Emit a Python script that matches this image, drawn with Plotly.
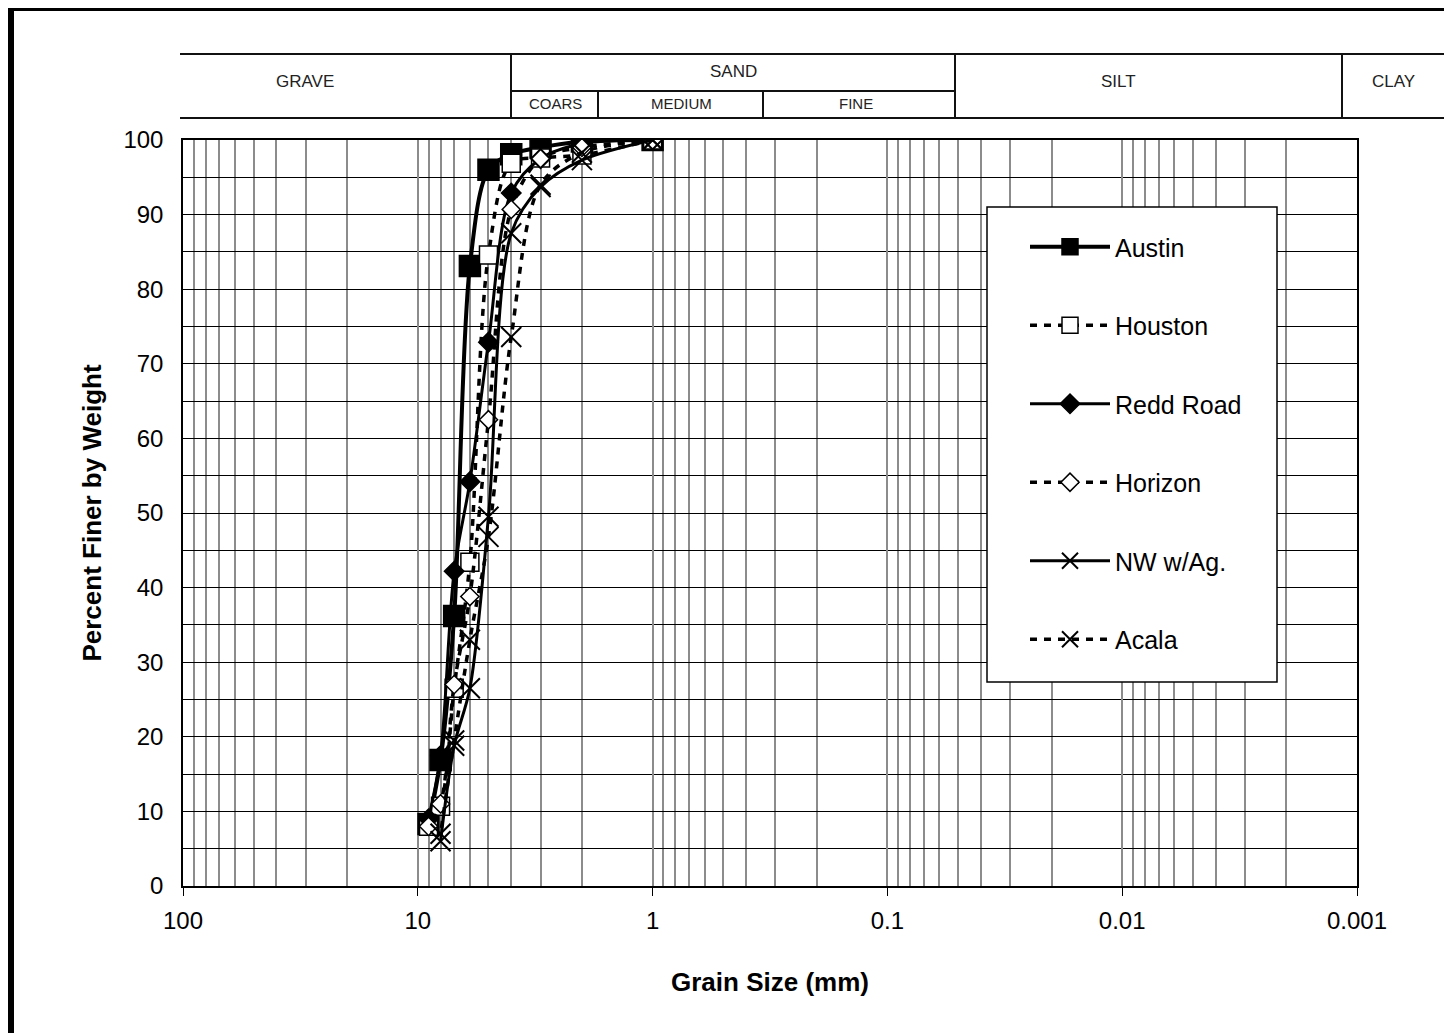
import plotly.graph_objects as go

# ---------------- data ----------------
sizes_mm = [1, 2, 3, 4, 5, 6, 7, 8, 9]
austin = [100, 99.8, 99.0, 98.1, 96.0, 83.1, 36.2, 16.9, 8.3]
houston = [100, 98.0, 97.6, 96.9, 84.6, 43.4, 26.5, 10.7, 8.0]
redd_road = [100, 99.5, 97.5, 92.9, 72.9, 54.2, 42.2, 17.5, 9.0]
horizon = [100, 99.0, 97.5, 90.7, 62.5, 38.8, 27.0, 11.0, 8.0]
sizes_mm_short = [1, 2, 3, 4, 5, 6, 7, 8]
nw_ag = [100, 97.3, 93.7, 87.5, 49.5, 26.5, 18.8, 6.0]
acala = [100, 98.3, 94.0, 73.6, 46.8, 33.0, 19.5, 7.0]

major_ticks = [100, 10, 1, 0.1, 0.01, 0.001]
major_labels = ["100", "10", "1", "0.1", "0.01", "0.001"]
minor_ticks = [k * 10.0 ** e for e in range(-3, 2) for k in range(2, 10)]

header_top = ["GRAVE", "SAND", "SILT", "CLAY"]
header_sub = ["COARS", "MEDIUM", "FINE"]

# ---------------- figure geometry (page has an 8px body margin) ----------------
OFF = 8
W, H = 1452 - OFF, 1033 - OFF
PL, PT, PR, PB = 183, 140, 1357, 886          # plot area in page pixels
L, T = PL - OFF, PT - OFF
R = W - (PR - OFF)
B = H - (PB - OFF)
PW, PH = PR - PL, PB - PT


def px(x):
    return (x - PL) / PW


def py(y):
    return (PB - y) / PH


FONT = "Arial, Liberation Sans, sans-serif"

fig = go.Figure()


def add(name, x, y, dash, symbol, msize, fill, lw):
    fig.add_trace(go.Scatter(
        x=x, y=y, name=name, mode="lines+markers", legendgroup=name,
        line=dict(color="black", width=lw, dash=dash, shape="spline", smoothing=0.9),
        marker=dict(symbol=symbol, size=msize, color=fill,
                    line=dict(color="black", width=2 if symbol == "x-thin" else 1.5)),
    ))


DOT = "7px,7px"
add("Austin", sizes_mm, austin, "solid", "square", 21, "black", 4)
add("Houston", sizes_mm, houston, DOT, "square", 18, "white", 3.5)
add("Redd Road", sizes_mm, redd_road, "solid", "diamond", 15, "black", 3)
add("Horizon", sizes_mm, horizon, DOT, "diamond", 14, "white", 3.5)
add("NW w/Ag.", sizes_mm_short, nw_ag, "solid", "x-thin", 20, "black", 3)
add("Acala", sizes_mm_short, acala, DOT, "x-thin", 20, "black", 3.5)

shapes = []
# outer frame (top and left thick borders)
shapes.append(dict(type="line", xref="paper", yref="paper", x0=px(8), x1=px(1470),
                   y0=py(9.5), y1=py(9.5), line=dict(color="black", width=3)))
shapes.append(dict(type="line", xref="paper", yref="paper", x0=px(11), x1=px(11),
                   y0=py(8), y1=py(1050), line=dict(color="black", width=6)))

# header table
hl = dict(color="#111111", width=2)
shapes += [
    dict(type="line", xref="paper", yref="paper", x0=px(180), x1=px(1470), y0=py(54), y1=py(54), line=hl),
    dict(type="line", xref="paper", yref="paper", x0=px(180), x1=px(1470), y0=py(118), y1=py(118), line=hl),
    dict(type="line", xref="paper", yref="paper", x0=px(511), x1=px(955), y0=py(91), y1=py(91), line=hl),
]
for xv in [511, 955, 1342]:
    shapes.append(dict(type="line", xref="paper", yref="paper", x0=px(xv), x1=px(xv),
                       y0=py(54), y1=py(118), line=hl))
for xv in [598, 763]:
    shapes.append(dict(type="line", xref="paper", yref="paper", x0=px(xv), x1=px(xv),
                       y0=py(91), y1=py(118), line=hl))

# legend box
shapes.append(dict(type="rect", xref="paper", yref="paper", x0=px(987), x1=px(1277),
                   y0=py(682), y1=py(207), fillcolor="white",
                   line=dict(color="black", width=1.5), layer="above"))

annotations = []
hfont = dict(family=FONT, size=17, color="#222222")
for txt, xc, yc in zip(header_top, [305, 733, 1118, 1393], [82, 72, 82, 82]):
    annotations.append(dict(text=txt, x=px(xc), y=py(yc), xref="paper", yref="paper",
                            showarrow=False, font=hfont, xanchor="center", yanchor="middle"))
for txt, xc in zip(header_sub, [555, 681, 856]):
    annotations.append(dict(text=txt, x=px(xc), y=py(104), xref="paper", yref="paper",
                            showarrow=False, font=dict(family=FONT, size=15, color="#222222"),
                            xanchor="center", yanchor="middle"))

fig.update_layout(
    width=W, height=H,
    margin=dict(l=L, r=R, t=T, b=B),
    paper_bgcolor="white", plot_bgcolor="white",
    font=dict(family=FONT, size=24, color="black"),
    shapes=shapes, annotations=annotations,
    showlegend=True,
    legend=dict(x=px(1025), y=py(224), xanchor="left", yanchor="top",
                bgcolor="rgba(0,0,0,0)", borderwidth=0,
                font=dict(family=FONT, size=25, color="black"),
                itemwidth=80, tracegroupgap=43, traceorder="grouped"),
    xaxis=dict(type="log", range=[2, -3], tickmode="array", tickvals=major_ticks,
               ticktext=major_labels, showgrid=True, gridcolor="#8c8c8c", gridwidth=1.5,
               minor=dict(tickmode="array", tickvals=minor_ticks, showgrid=True,
                          gridcolor="#8c8c8c", gridwidth=1.5, ticks=""),
               showline=True, linecolor="black", linewidth=1.5, mirror=True,
               ticks="outside", ticklen=8, tickcolor="black", ticklabelstandoff=4,
               zeroline=False, tickfont=dict(size=24),
               title=dict(text="<b>Grain Size (mm)</b>", font=dict(size=26), standoff=40)),
    yaxis=dict(range=[0, 100], tickmode="linear", tick0=0, dtick=10,
               showgrid=True, gridcolor="black", gridwidth=1,
               minor=dict(dtick=5, showgrid=True, gridcolor="black", gridwidth=1, ticks=""),
               showline=True, linecolor="black", linewidth=1.5, mirror=True,
               ticks="", ticklabelstandoff=13, zeroline=False, tickfont=dict(size=24),
               title=dict(text="<b>Percent Finer by Weight</b>", font=dict(size=26), standoff=14)),
)

fig.write_html("out.html")
